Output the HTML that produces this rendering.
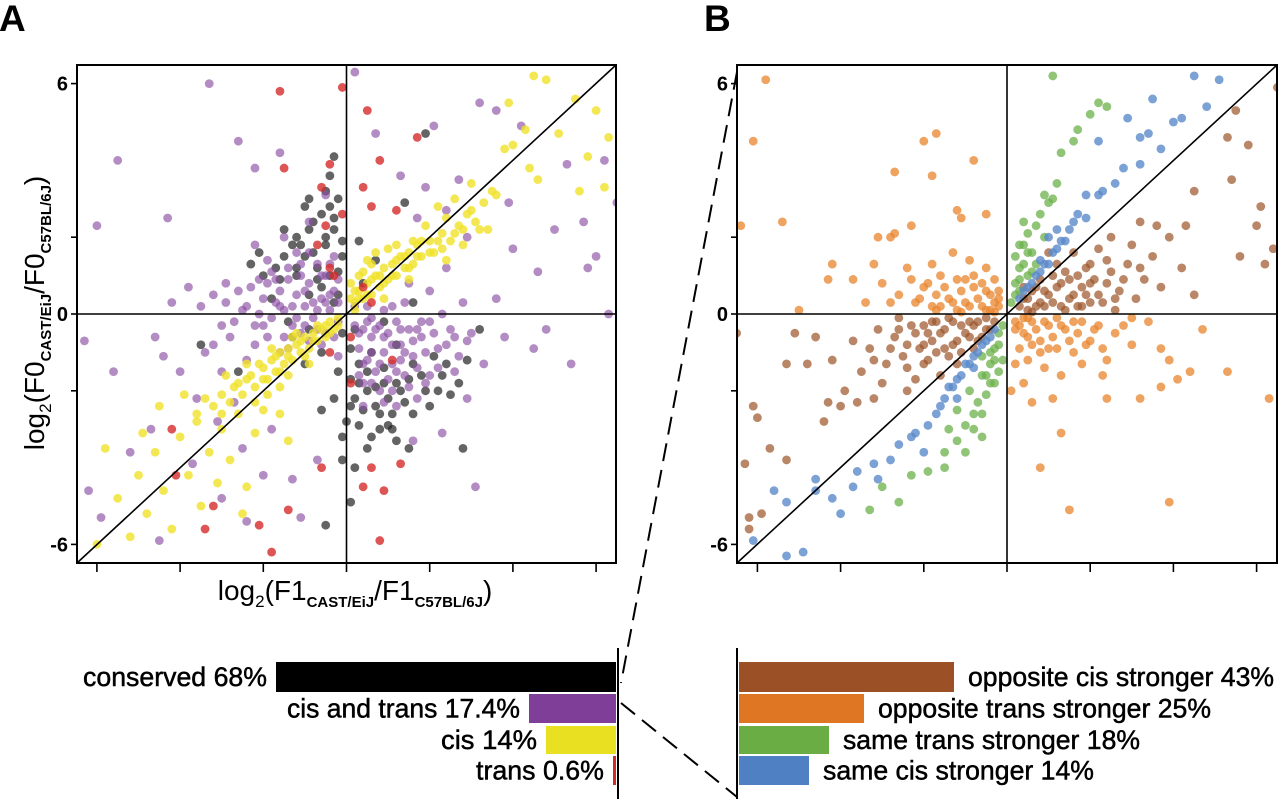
<!DOCTYPE html>
<html><head><meta charset="utf-8"><style>
html,body{margin:0;padding:0;background:#fff}
svg{display:block;font-family:"Liberation Sans",Arial,sans-serif}
</style></head><body>
<svg id="fig" width="1280" height="799" viewBox="0 0 1280 799" xmlns="http://www.w3.org/2000/svg">
<text x="-1" y="31" font-size="37" font-weight="bold">A</text>
<text x="704" y="31" font-size="37" font-weight="bold">B</text>
<g id="panelA"></g>
<g id="panelB"></g>
<text transform="translate(44,313) rotate(-90)" text-anchor="middle" font-size="28">log<tspan font-size="17" dy="7">2</tspan><tspan dy="-7">(F0</tspan><tspan font-size="15" font-weight="bold" dy="7">CAST/EiJ</tspan><tspan dy="-7">/F0</tspan><tspan font-size="15" font-weight="bold" dy="7">C57BL/6J</tspan><tspan dy="-7">)</tspan></text>
<text x="355" y="600" text-anchor="middle" font-size="28">log<tspan font-size="17" dy="7">2</tspan><tspan dy="-7">(F1</tspan><tspan font-size="15" font-weight="bold" dy="7">CAST/EiJ</tspan><tspan dy="-7">/F1</tspan><tspan font-size="15" font-weight="bold" dy="7">C57BL/6J</tspan><tspan dy="-7">)</tspan></text>
<g id="barsA"></g>
<g id="barsB"></g>
<line x1="737" y1="72" x2="621" y2="683" stroke="#000" stroke-width="2" stroke-dasharray="18,9"/>
<line x1="621" y1="703" x2="737" y2="797" stroke="#000" stroke-width="2" stroke-dasharray="18,9"/>
</svg>
<script>
const NS="http://www.w3.org/2000/svg";
const xTicks=[-6,-4,-2,0,2,4,6];
const yTicks=[-6,-2,2,6];
const yTickLabels=[{v:6,t:"6"},{v:0,t:"0"},{v:-6,t:"-6"}];
// Panel A series
const blackPts=[[-0.2,0.5],[-0.4,1.0],[-0.1,1.5],[-0.5,1.8],[-0.3,2.2],[-0.8,1.6],[-0.6,2.6],[-0.2,3],[-0.9,2.2],[-1.2,1.2],[-1.5,1.5],[-1.2,2.0],[-0.1,-0.5],[0.1,-0.9],[0.3,-1.3],[0.1,-1.7],[0.5,-1.5],[0.2,-2.2],[0.7,-1.9],[0.4,-2.5],[0.9,-1.4],[1.2,-1.8],[1.4,-2.3],[0.8,-2.6],[1.6,-1.3],[1.9,-2.0],[2.1,-1.1],[2.3,-1.6],[2.5,-2.1],[0.0,-2.8],[-0.1,-3.2],[0.6,-3.2],[1.1,-3.0],[-1.0,-1.3],[-0.6,-1.0],[-1.3,-0.6],[-1.8,0.4],[-2,1.0],[-2.3,1.3],[-0.9,0.5],[0.4,0.8],[0.3,1.9],[0.7,1.4],[-0.4,3.6],[-0.3,4.1],[1.9,4.7],[1.4,2.9],[-1.4,-0.2],[-2.6,-1.5],[-3.5,-0.8],[1.2,-0.8],[0.9,-0.2],[2.9,-1.2],[3.2,-0.4],[1.5,-3.5],[0.1,-4.9],[-0.5,-5.5],[-0.6,-2.5],[-0.2,-1.5],[1.6,0.3],[2.8,-3.5],[-0.9,-0.4],[-0.7,0.9],[-0.4,2.8],[0.6,-1.0],[1.0,-2.2],[-1.6,0.9],[-1.1,1.8],
[-0.3,0.3],[-0.6,0.7],[-0.2,1.1],[-0.7,1.2],[-1.0,1.5],[-0.5,2.0],[-0.3,2.5],[-0.8,2.4],[-1.3,1.8],[-1.5,2.2],[-1.0,2.8],[-0.1,1.9],[-0.5,3.2],[-1.7,1.2],[-2.1,1.6],[0.2,-0.4],[0.3,-1.8],[0.5,-2.0],[0.7,-2.4],[0.9,-1.8],[1.1,-2.6],[1.3,-2.0],[1.6,-2.6],[1.8,-1.6],[2.0,-2.4],[2.2,-2.0],[2.4,-1.3],[0.1,-2.4],[0.3,-2.9],[0.5,-3.5],[0.8,-3.0],[1.2,-3.3],[-0.1,-3.8],[0.2,-4.0],[-0.3,-2.2],[-1.2,1.0],[-0.9,3.0],[1.0,-2.9],[1.5,-1.7],[2.7,-1.8]];
const purplePts=[[-2.5,0.1],[-2.2,-0.3],[-2,0.4],[-1.8,-0.1],[-1.6,0.6],[-1.5,0.1],[-1.3,-0.3],[-1.2,0.5],[-1,0.2],[-0.9,0.8],[-0.8,-0.1],[-0.6,0.4],[-0.5,1],[-0.4,0.1],[-0.3,0.6],[-0.2,-0.2],[-0.7,1.3],[-1.1,1.0],[-1.7,0.9],[-0.3,1.5],[0.2,-0.3],[0.3,-0.9],[0.4,-0.4],[0.5,-1.2],[0.6,-0.6],[0.7,-1.5],[0.8,-0.3],[0.9,-1.0],[1.0,-0.5],[1.1,-1.3],[1.2,-0.2],[1.3,-0.8],[1.4,-1.6],[1.5,-0.4],[1.6,-1.1],[1.8,-0.6],[2.0,-0.2],[2.2,-0.9],[2.5,-0.4],[0.4,-1.8],[0.8,-2.0],[1.1,0.2],[-0.2,-1.1],[-1.6,-1.0],[-2.4,-1.2],[-2.8,-0.6],[-3.2,-0.8],[-3.5,0.2],[-1.9,1.4],[-1.2,1.6],[1.5,0.8],[2.0,0.6],[2.4,1.2],[2.8,0.3],[3,-0.5],[1.9,-1.8],[2.6,-1.5],[-6,2.3],[-6.3,-0.7],[-5.9,-5.3],[-6.2,-4.6],[-5.5,4.0],[-4.6,-0.6],[-4.4,-1.1],[-4.2,0.3],[-4,-1.5],[-3.8,0.7],[-3.6,-2.2],[-3.4,-1.0],[-3.1,-2.8],[-2.9,0.8],[-2.7,-2.3],[-2.5,-3.5],[-2.2,1.8],[-2,-4.2],[-1.8,-3.0],[-1.6,4.2],[-1.5,2.0],[-1.3,-4.3],[-1.1,-5.3],[-0.9,2.4],[-0.7,-3.8],[-0.5,3.1],[-4.3,2.5],[-5.2,-3.6],[-5.6,-1.5],[-3,-4.8],[-2.4,-5.4],[-4.5,-5.9],[-3.3,6.0],[-2.6,4.5],[-2.2,3.8],[-4.7,-3.0],[-3.7,-3.9],[0.2,6.3],[0.7,4.7],[1.3,3.6],[1.7,2.5],[2.1,4.9],[2.7,3.5],[3.2,5.5],[3.6,5.3],[3.9,2.9],[4.2,4.9],[4.6,1.1],[5.0,2.2],[5.3,3.9],[5.7,2.4],[6.0,1.5],[6.2,4.0],[6.5,2.9],[6.3,0],[4.0,1.7],[3.6,0.4],[3.3,-1.3],[2.9,-2.2],[3.8,-0.6],[4.8,-0.4],[5.4,-1.3],[3.1,-4.5],[2.3,-3.1],[1.6,-3.3],[7,-1.4],[4.5,-0.9],[5.8,1.2],[2.9,2.0],[2.4,2.7],[1.9,3.3],[-1.0,-0.3],[-0.5,-0.5],[0.6,-0.1],[1.3,-1.2],[1.7,-0.4],[-1.4,0.9],[-2.1,0.9],[-3.0,-1.5],
[-2.9,0.3],[-2.7,-0.2],[-2.6,0.6],[-2.3,0.7],[-2.1,0.0],[-1.9,-0.6],[-1.9,0.8],[-1.7,0.3],[-1.5,-0.6],[-1.4,1.2],[-1.3,0.2],[-1.1,-0.5],[-1.0,0.6],[-0.9,1.6],[-0.8,0.3],[-0.7,-0.4],[-0.6,1.0],[-0.5,0.3],[-0.4,1.3],[-0.3,-0.6],[-0.2,0.9],[-0.2,0.3],[-1.2,-0.1],[-1.6,0.2],[-2.0,-0.3],[-2.4,0.2],[-1.8,1.1],[-1.1,1.3],[-0.7,0.1],[-0.4,0.5],[-3.2,0.5],[-3.0,-0.3],[-2.2,-0.8],[-1.4,-0.9],[-0.9,-0.7],[-0.6,-0.8],
[0.2,0.2],[0.3,-0.5],[0.4,-1.3],[0.5,-0.2],[0.6,-1.0],[0.7,-0.4],[0.8,-1.3],[0.9,-0.6],[1.0,-1.7],[1.1,-0.8],[1.2,-1.5],[1.3,-0.4],[1.4,-1.0],[1.5,-1.9],[1.6,-0.7],[1.7,-1.4],[1.8,-0.2],[1.9,-1.0],[2.1,-0.5],[2.2,-1.4],[2.3,0.0],[2.4,-0.8],[2.6,-0.6],[2.7,-1.1],[2.9,-0.7],[0.3,-1.6],[0.6,-1.8],[0.9,-2.3],[1.2,-2.4],[0.5,0.2],[0.9,0.1],[1.4,0.3],[2.0,-1.6],[1.1,-2.0],[1.7,-2.2],[0.4,-2.4]];
const yellowPts=[[-3.2,-2.4],[-3,-2.1],[-2.8,-2.3],[-2.6,-1.8],[-2.5,-2.1],[-2.3,-1.6],[-2.2,-1.9],[-2,-1.4],[-1.9,-1.7],[-1.8,-1.2],[-1.7,-1.5],[-1.6,-1.0],[-1.5,-1.3],[-1.4,-0.9],[-1.3,-1.2],[-1.2,-0.8],[-1.1,-1.0],[-1.0,-0.6],[-0.9,-0.9],[-0.8,-0.5],[-0.7,-0.7],[-0.6,-0.4],[-0.5,-0.6],[-0.4,-0.2],[-0.3,-0.4],[-0.2,-0.1],[0.2,0.3],[0.3,0.6],[0.4,0.4],[0.5,0.8],[0.6,0.5],[0.7,1.0],[0.8,0.7],[0.9,1.2],[1.0,0.9],[1.1,1.3],[1.2,1.0],[1.3,1.5],[1.4,1.2],[1.5,1.6],[1.6,1.3],[1.7,1.8],[1.8,1.5],[2.0,1.9],[2.1,1.6],[2.3,2.1],[2.5,1.9],[2.7,2.3],[2.9,2.6],[3.1,2.4],[3.3,2.9],[3.6,3.1],[-2.4,-1.3],[-1.8,-0.9],[-1.2,-0.5],[0.6,1.3],[1.2,1.8],[1.9,2.3],[-2.9,-1.6],[0.9,0.4],[1.5,0.9],[-0.9,-1.3],[-1.6,-1.9],[2.4,1.4],[0.3,1.0],[0.1,0.8],[0.5,1.4],[-6,-6],[-5.5,-4.8],[-5.2,-5.8],[-5,-4.2],[-4.8,-5.2],[-4.6,-3.6],[-4.4,-4.6],[-4.2,-5.6],[-4,-3.2],[-3.8,-4.2],[-3.6,-2.8],[-3.5,-5],[-3.3,-3.6],[-3.1,-4.4],[-3,-3],[-2.8,-3.8],[-2.6,-2.6],[-2.4,-4.5],[-2.2,-3.1],[-2,-2.5],[-5.8,-3.5],[-4.9,-3.1],[-4.5,-2.4],[-3.9,-2.1],[-2.5,-5.2],[-1.6,-2.6],[-1.4,-3.3],[4.5,6.2],[4.8,6.1],[5.5,5.6],[6,5.3],[4.3,4.8],[4,4.4],[3.8,4.3],[5.1,4.7],[5.8,4.1],[4.4,3.8],[3.5,3.2],[4.6,3.5],[3,3.4],[2.6,3.0],[5.6,3.2],[6.3,4.6],[2.8,1.8],[3.4,2.2],[2.2,2.8],[3.9,5.5],[6.2,3.3],
[-2.7,-1.9],[-2.4,-1.7],[-2.1,-1.3],[-2.0,-1.7],[-1.7,-1.1],[-1.6,-1.5],[-1.4,-1.1],[-1.3,-0.6],[-1.1,-0.7],[-1.0,-1.1],[-0.8,-0.7],[-0.7,-0.3],[-0.5,-0.3],[-0.4,-0.5],[-0.2,-0.3],[0.2,0.1],[0.3,0.4],[0.5,0.5],[0.6,0.9],[0.8,1.0],[0.9,0.8],[1.1,1.0],[1.2,1.4],[1.4,1.5],[1.5,1.2],[1.7,1.5],[1.8,1.9],[2.0,1.6],[2.2,1.9],[2.3,1.7],[2.6,2.1],[2.8,2.2],[3.0,2.7],[0.4,1.1],[0.7,1.6],[1.0,1.7],[0.2,0.6],[-3.4,-2.2],[-3.6,-2.6],[-2.2,-2.3],[-1.4,-1.6],[0.1,0.4],[1.6,1.9],[2.4,2.5],[3.2,2.2],[-1.9,-2.1],[-3.0,-2.6]];
const redPts=[[-1.6,5.8],[-0.1,5.9],[0.5,5.3],[1.7,4.6],[-1.5,3.8],[-0.4,3.9],[0.8,4.0],[0.4,3.3],[-0.6,3.3],[-0.1,2.6],[0.6,2.8],[1.2,2.7],[-0.5,2.3],[-0.7,1.8],[-0.4,1.2],[-0.3,1.0],[0.4,0.7],[0.6,0.3],[0.1,-0.6],[-0.4,-1.0],[0.1,-1.8],[0.6,-4.0],[0.4,-4.5],[1.3,-3.9],[0.9,-4.6],[-0.6,-4.0],[-1.4,-5.1],[-1.8,-6.2],[-2.1,-5.5],[-3.2,-5.0],[0.8,-5.9],[-3.4,-5.6],[-4.1,-4.2],[-4.2,-3.0],[1.1,-1.2]];
// Panel B series
const brownPts=[[0.3,0.2],[0.5,0.4],[0.7,0.2],[0.9,0.6],[1.1,0.3],[1.3,0.8],[1.5,0.4],[1.7,1.0],[1.9,0.5],[2.1,0.9],[2.3,0.3],[2.5,1.1],[2.7,0.6],[2.9,1.3],[3.1,0.4],[3.3,0.9],[3.5,1.5],[3.7,0.7],[3.9,2.0],[4.2,1.2],[1.2,1.3],[1.6,1.6],[2.2,1.7],[2.6,0.1],[0.8,0.9],[1.4,0.1],[1.8,0.2],[2,1.3],[3,1.8],[3.6,2.3],[4.3,2.3],[4.5,0.5],[5.4,3.5],[6,2.3],[6.4,1.7],[5.8,4.4],[6.6,4.6],[5.3,4.6],[5.6,1.5],[6.2,1.3],[4.5,3.2],[5.5,5.3],[6.5,5.9],[6.1,2.8],[6.9,3.9],[3.2,2.4],[2.5,2.0],[1.0,1.6],[0.4,0.7],[0.6,0.05],[-0.3,-0.2],[-0.5,-0.4],[-0.7,-0.2],[-0.9,-0.6],[-1.1,-0.3],[-1.3,-0.8],[-1.5,-0.4],[-1.7,-1.0],[-1.9,-0.5],[-2.1,-0.9],[-2.3,-0.3],[-2.5,-1.1],[-2.7,-0.6],[-2.9,-1.3],[-3.1,-0.4],[-3.3,-0.9],[-3.5,-1.5],[-3.7,-0.7],[-3.9,-2.0],[-4.2,-1.2],[-1.2,-1.3],[-1.6,-1.6],[-2.2,-1.7],[-2.6,-0.1],[-0.8,-0.9],[-1.4,-0.1],[-1.8,-0.2],[-2,-1.3],[-3,-1.8],[-3.6,-2.3],[-4.3,-2.3],[-4.6,-0.6],[-5.1,-0.5],[-5.3,-1.3],[-4.8,-1.3],[-6,-2.7],[-6.1,-2.4],[-5.3,-3.8],[-6.3,-3.9],[-5.7,-3.5],[-6.2,-5.3],[-5.9,-5.2],[-6.2,-5.6],[-4.4,-2.8],[-3.2,-2.2],[-2.4,-2.0],[-6.9,-1.2],[-6.5,-0.5],[-4,-2.4],
[0.4,0.4],[0.6,0.6],[0.8,0.3],[1.0,0.5],[1.2,0.7],[1.3,0.2],[1.5,0.9],[1.6,0.5],[1.8,0.7],[2.0,0.3],[2.0,0.8],[2.2,0.5],[2.4,0.8],[2.6,0.4],[2.8,0.9],[0.9,0.2],[1.1,1.0],[1.4,1.1],[0.5,0.1],[0.7,0.7],[1.7,0.2],[2.4,1.4],[3.2,1.2],[1.9,1.2],
[-0.4,-0.4],[-0.6,-0.6],[-0.8,-0.3],[-1.0,-0.5],[-1.2,-0.7],[-1.3,-0.2],[-1.5,-0.9],[-1.6,-0.5],[-1.8,-0.7],[-2.0,-0.3],[-2.0,-0.8],[-2.2,-0.5],[-2.4,-0.8],[-2.6,-0.4],[-2.8,-0.9],[-0.9,-0.2],[-1.1,-1.0],[-1.4,-1.1],[-0.5,-0.1],[-0.7,-0.7],[-1.7,-0.2],[-2.4,-1.4],[-3.2,-1.2],[-1.9,-1.2]];
const orangePts=[[-0.2,0.2],[-0.4,0.5],[-0.6,0.2],[-0.8,0.7],[-1.0,0.3],[-1.2,0.9],[-1.4,0.4],[-1.6,1.0],[-1.8,0.2],[-2.0,0.7],[-2.2,0.3],[-2.4,1.2],[-2.6,0.5],[-3.0,0.8],[-3.4,0.3],[-3.7,0.9],[-0.3,0.9],[-0.5,1.2],[-0.9,1.4],[-1.3,1.6],[-1.8,1.3],[-2.8,2.0],[-2.3,2.3],[-1.2,2.7],[-0.5,2.6],[-2.7,2.1],[-3.1,2.0],[-4.2,1.3],[-5,0.1],[-4.3,0.9],[-3.2,1.3],[-1.1,0.05],[-1.7,0.1],[-0.3,0.05],[-5.4,2.4],[-6.4,2.3],[-5.8,6.1],[-6.1,4.5],[-2.0,4.5],[-1.7,4.7],[-1.8,3.6],[-2.7,3.7],[-0.8,4.0],[-1.1,2.5],[-0.2,0.6],[0.2,-0.2],[0.4,-0.5],[0.6,-0.2],[0.8,-0.7],[1.0,-0.3],[1.2,-0.9],[1.4,-0.4],[1.6,-1.0],[1.8,-0.2],[2.0,-0.7],[2.2,-0.3],[2.4,-1.2],[2.6,-0.5],[3.0,-0.8],[3.4,-0.2],[3.7,-0.9],[0.3,-0.9],[0.5,-1.2],[0.9,-1.4],[1.3,-1.6],[1.8,-1.3],[2.3,-1.6],[0.4,-1.8],[1.1,-2.2],[2.4,-2.2],[3.2,-2.2],[3.9,-1.2],[4.1,-1.7],[4.4,-1.5],[3.7,-1.9],[5.3,-1.5],[6.3,-2.2],[0.2,-1.3],[1.3,-3.1],[1.5,-5.1],[0.8,-4.0],[4.7,-0.4],[3.0,-0.1],[0.1,-2.0],[0.6,-2.3],[3.9,-4.9],
[-0.3,0.3],[-0.5,0.6],[-0.7,0.4],[-0.9,0.2],[-1.1,0.6],[-1.3,0.3],[-1.5,0.7],[-1.7,0.5],[-1.9,0.8],[-2.1,0.4],[-0.4,0.1],[-0.6,0.8],[-0.8,1.0],[-1.0,0.9],[-1.2,0.1],[-1.6,0.2],[-2.3,0.9],[-2.8,0.3],[-0.2,0.4],[-0.5,0.1],
[0.3,-0.3],[0.5,-0.6],[0.7,-0.4],[0.9,-0.2],[1.1,-0.6],[1.3,-0.3],[1.5,-0.7],[1.7,-0.5],[1.9,-0.8],[2.1,-0.4],[0.4,-0.1],[0.6,-0.8],[0.8,-1.0],[1.0,-0.9],[1.2,-0.1],[1.6,-0.2],[2.3,-0.9],[2.8,-0.3],[0.2,-0.4],[0.5,-0.1]];
const greenPts=[[0.1,0.3],[0.2,0.8],[0.3,1.2],[0.2,1.5],[0.4,1.8],[0.5,2.1],[0.6,1.6],[0.7,2.3],[0.8,2.6],[0.9,2.0],[1.0,2.9],[1.1,3.0],[0.3,0.6],[0.5,1.0],[0.7,1.3],[0.4,2.4],[1.3,4.2],[1.6,4.5],[2.0,5.2],[2.4,5.4],[1.1,6.2],[1.7,4.8],[1.2,3.4],[0.9,3.1],[-0.1,-0.3],[-0.2,-0.8],[-0.3,-1.2],[-0.2,-1.5],[-0.4,-1.8],[-0.5,-2.1],[-0.6,-1.6],[-0.7,-2.3],[-0.8,-2.6],[-0.9,-2.0],[-1.0,-2.9],[-1.2,-3.3],[-1.5,-3.6],[-1.4,-3.0],[-1.9,-4.1],[-2.3,-4.2],[-2.6,-4.9],[-3.0,-4.5],[-3.3,-5.1],[-1.5,-4.0],[-1.0,-3.6],[-0.6,-3.2],[-1.2,-2.5],[-0.4,-1.0],[-0.1,-1.2],[2.2,5.5],
[0.2,0.5],[0.3,0.9],[0.4,1.3],[0.5,1.6],[0.6,1.1],[0.3,1.8],[-0.2,-0.5],[-0.3,-0.9],[-0.4,-1.3],[-0.5,-1.6],[-0.6,-1.1],[-0.3,-1.8],[-0.6,-2.6],[-0.8,-3.0]];
const bluePts=[[0.3,0.4],[0.5,0.7],[0.7,1.0],[0.9,1.3],[1.1,1.6],[1.3,1.9],[1.5,2.2],[0.8,1.4],[1.2,2.2],[1.7,2.6],[1.9,2.5],[2.2,3.1],[2.3,3.2],[2.6,3.4],[2.8,3.8],[3.2,3.9],[2.9,5.1],[3.2,4.6],[3.4,4.7],[3.7,4.3],[4.0,5.0],[4.2,5.1],[4.5,6.2],[4.8,5.4],[5.1,6.1],[3.5,5.6],[2.2,4.5],[1.9,3.1],[1.0,2.0],[-0.3,-0.4],[-0.5,-0.7],[-0.7,-1.0],[-0.9,-1.3],[-1.1,-1.6],[-1.3,-1.9],[-1.5,-2.2],[-0.8,-1.4],[-1.2,-2.2],[-1.7,-2.6],[-1.9,-2.9],[-2.2,-3.1],[-2.3,-3.2],[-2.6,-3.4],[-2.8,-3.8],[-3.2,-3.9],[-3.6,-4.1],[-3.7,-4.5],[-4.2,-4.8],[-4.6,-4.3],[-4.6,-4.6],[-5.3,-4.9],[-5.6,-4.6],[-6.1,-5.9],[-4,-5.2],[-3.1,-4.3],[-2.0,-3.6],[-5.3,-6.3],[-4.9,-6.2],
[0.4,0.6],[0.6,0.8],[0.8,1.1],[1.0,1.3],[1.2,1.7],[1.4,1.9],[1.6,2.4],[-0.4,-0.6],[-0.6,-0.8],[-0.8,-1.1],[-1.0,-1.3],[-1.2,-1.7],[-1.4,-1.9],[-1.6,-2.4]];
// Bars
const barLabelsA=["conserved 68%","cis and trans 17.4%","cis 14%","trans 0.6%"];
const barValuesA=[68,17.4,14,0.6];
const barLabelsB=["opposite cis stronger 43%","opposite trans stronger 25%","same trans stronger 18%","same cis stronger 14%"];
const barValuesB=[43,25,18,14];
const labelWidthsA=[184,233,96,128];
const labelWidthsB=[306,333,297,271];

function mk(tag,attrs,parent){const e=document.createElementNS(NS,tag);for(const k in attrs)e.setAttribute(k,attrs[k]);parent.appendChild(e);return e;}

function panel(g,left,right,series){
  const top=65,bottom=563,cx=(left+right)/2,cy=314;
  const sx=v=>cx+v*41.6, sy=v=>cy-v*38.4;
  const clipId='clip'+left;
  const cp=mk('clipPath',{id:clipId},g);
  mk('rect',{x:left,y:top,width:right-left,height:bottom-top},cp);
  const pts=mk('g',{'clip-path':'url(#'+clipId+')'},g);
  series.forEach(s=>{
    s.data.forEach(p=>{
      const c=mk('circle',{cx:sx(p[0]),cy:sy(p[1]),r:4.4,fill:s.color,'fill-opacity':s.op},pts);
      
      
    });
  });
  const axl=mk('g',{stroke:'#000','stroke-width':1.6},g);
  mk('line',{x1:cx,y1:top,x2:cx,y2:bottom},axl);
  mk('line',{x1:left,y1:cy,x2:right,y2:cy},axl);
  mk('line',{x1:left,y1:bottom,x2:right,y2:top},axl);
  const box=mk('rect',{x:left,y:top,width:right-left,height:bottom-top,fill:'none',stroke:'#000','stroke-width':2},g);
  
  
  xTicks.forEach(v=>{const t=mk('line',{x1:sx(v),y1:bottom,x2:sx(v),y2:bottom+9,stroke:'#000','stroke-width':1.6},g);
    
    });
  [...yTicks,0].forEach(v=>{const t=mk('line',{x1:left-6,y1:sy(v),x2:left,y2:sy(v),stroke:'#000','stroke-width':1.6},g);
    
    });
  yTickLabels.forEach(o=>{const t=mk('text',{x:left-9,y:sy(o.v)+7,'text-anchor':'end','font-size':20,'font-weight':'bold'},g);t.textContent=o.t;
    
    });
}
panel(document.getElementById('panelA'),77,616,[
  {name:'conserved',data:blackPts,color:'#222',op:0.7},
  {name:'cis-and-trans',data:purplePts,color:'#8b4ea3',op:0.65},
  {name:'cis',data:yellowPts,color:'#f0e228',op:0.8},
  {name:'trans',data:redPts,color:'#d62a2a',op:0.8}]);
panel(document.getElementById('panelB'),737,1277,[
  {name:'opposite-cis-stronger',data:brownPts,color:'#9b5428',op:0.7},
  {name:'opposite-trans-stronger',data:orangePts,color:'#e8842c',op:0.75},
  {name:'same-trans-stronger',data:greenPts,color:'#6bb04a',op:0.75},
  {name:'same-cis-stronger',data:bluePts,color:'#5a8acb',op:0.8}]);

const rowsY=[662,694,726,756], rowH=[30,29,28,29], pxPer=5;
const colsA=['#000','#7f3f98','#e8e020','#d42a2a'];
const colsB=['#9b5025','#de7624','#6aad45','#4f80c3'];
const gA=document.getElementById('barsA'), gB=document.getElementById('barsB');
const axA=mk('line',{x1:618,y1:648,x2:618,y2:799,stroke:'#000','stroke-width':2},gA);


const axB=mk('line',{x1:737,y1:648,x2:737,y2:799,stroke:'#000','stroke-width':2},gB);


barValuesA.forEach((v,i)=>{
  const w=v*pxPer;
  const r=mk('rect',{x:616-w,y:rowsY[i],width:w,height:rowH[i],fill:colsA[i]},gA);
  
  
  const t=mk('text',{x:616-w-9,y:rowsY[i]+rowH[i]/2+9,'text-anchor':'end','font-size':27,'textLength':labelWidthsA[i],'lengthAdjust':'spacingAndGlyphs','stroke':'#000','stroke-width':0.5},gA);
  t.textContent=barLabelsA[i];
  
  
});
barValuesB.forEach((v,i)=>{
  const w=v*pxPer;
  const r=mk('rect',{x:739,y:rowsY[i],width:w,height:rowH[i],fill:colsB[i]},gB);
  
  
  const t=mk('text',{x:739+w+14,y:rowsY[i]+rowH[i]/2+9,'font-size':27,'textLength':labelWidthsB[i],'lengthAdjust':'spacingAndGlyphs','stroke':'#000','stroke-width':0.5},gB);
  t.textContent=barLabelsB[i];
  
  
});
</script>
</body></html>
